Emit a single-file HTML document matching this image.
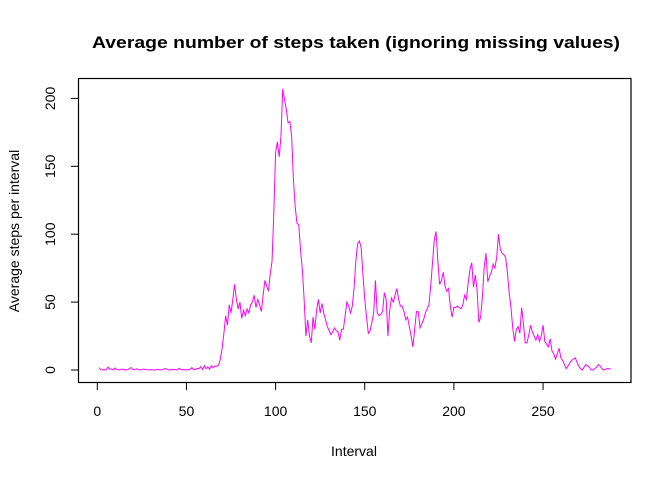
<!DOCTYPE html>
<html><head><meta charset="utf-8"><style>
html,body{margin:0;padding:0;background:#fff;}
svg{display:block;font-family:"Liberation Sans",Arial,sans-serif;}
</style></head><body>
<svg id="chart" width="672" height="480" viewBox="0 0 672 480">
<rect x="0" y="0" width="672" height="480" fill="#fff"/>
<text x="356" y="48" text-anchor="middle" font-size="17" font-weight="bold" textLength="528" lengthAdjust="spacingAndGlyphs">Average number of steps taken (ignoring missing values)</text>
<rect x="78.5" y="78.5" width="552.5" height="304" fill="none" stroke="#000" stroke-width="1.2"/>
<g id="xaxis"></g>
<g id="yaxis"></g>
<polyline id="line" fill="none" stroke="#ff00ff" stroke-width="1"/>
<text x="354" y="456" text-anchor="middle" font-size="14">Interval</text>
<text x="0" y="0" transform="translate(19,231) rotate(-90)" text-anchor="middle" font-size="14">Average steps per interval</text>
</svg>
<script>
const xTicks = [0, 50, 100, 150, 200, 250];
const yTicks = [0, 50, 100, 150, 200];
const steps = [
1.7,0.3,0.1,0.2,0.1,2.1,0.5,0.9,0,1.5,0.3,0.1,0.3,0.7,0.2,0.3,0,1.1,1.8,0.4,
0.2,0.9,0.2,0.2,0.3,0.7,0.4,0.2,0,0.3,0.2,0,0.1,0.5,0,0.2,0.3,1.1,0.6,0,
0.3,0.2,0.5,0.1,0.2,1.3,0.2,0.4,0,0.3,0.1,0.6,1.7,0.2,0.4,
1.2,0.9,2.5,0.3,3.2,1.0,2.4,0.5,3.1,1.7,3.0,2.8,3.5,
8,16,27,40,33,48,42,52,63,52,45,50,
38,44,40,45,42,48,50,55,46,52,48,
43,55,66,62,58,71,80,116,160,
168,157,172,207,199,192,182,183,172,140,120,108,107,88,74,52,25,37,25,20,
39,30,44,52,42,49,42,37,32,29,26,28,31,29,28,22,30,30,40,50,
47,42,47,60,80,93,95,90,70,52,39,27,29,35,42,66,42,40,41,43,
57,52,25,44,53,50,55,60,52,47,47,43,37,39,32,25,17,30,43,43,
31,34,37,42,45,48,62,79,96,102,80,63,66,72,62,58,60,47,39,46,
46,47,46,45,48,55,52,64,74,79,61,70,59,35,39,54,76,86,65,69,
72,78,75,83,100,89,86,85,83,72,57,46,31,21,30,32,27,46,34,20,
20,26,33,28,25,22,26,21,25,33,21,19,17,23,14,12,8,12,16,9,
7,4,1,3,5,7,8,9,6,3,1,0,2,4,3,2,0,0,1,2,4,3,1,0,0.5,1,1,0.5
];
const NS = "http://www.w3.org/2000/svg";
function xs(v){ return 97.3 + v * 1.783; }
function ys(v){ return 370 - v * 1.358; }
const xg = document.getElementById('xaxis');
const yg = document.getElementById('yaxis');
function mk(tag, attrs, parent){ const e = document.createElementNS(NS, tag); for (const k in attrs) e.setAttribute(k, attrs[k]); parent.appendChild(e); return e; }
mk('line', {x1: xs(xTicks[0]), x2: xs(xTicks[xTicks.length-1]), y1: 382.5, y2: 382.5, stroke: '#000'}, xg);
xTicks.forEach(t => {
  const l = mk('line', {x1: xs(t), x2: xs(t), y1: 382.5, y2: 390, stroke: '#000'}, xg);
  
  
  const tx = mk('text', {x: xs(t), y: 416, 'text-anchor': 'middle', 'font-size': 14}, xg);
  tx.textContent = t;
  
  
});
mk('line', {x1: 78.5, x2: 78.5, y1: ys(yTicks[0]), y2: ys(yTicks[yTicks.length-1]), stroke: '#000'}, yg);
yTicks.forEach(t => {
  const l = mk('line', {x1: 71, x2: 78.5, y1: ys(t), y2: ys(t), stroke: '#000'}, yg);
  
  
  const tx = mk('text', {x: 0, y: 0, transform: 'translate(55,' + ys(t) + ') rotate(-90)', 'text-anchor': 'middle', 'font-size': 14}, yg);
  tx.textContent = t;
  
  
});
document.getElementById('line').setAttribute('points', steps.map((v, i) => xs(i + 1).toFixed(2) + ',' + ys(v).toFixed(2)).join(' '));
</script>
</body></html>
